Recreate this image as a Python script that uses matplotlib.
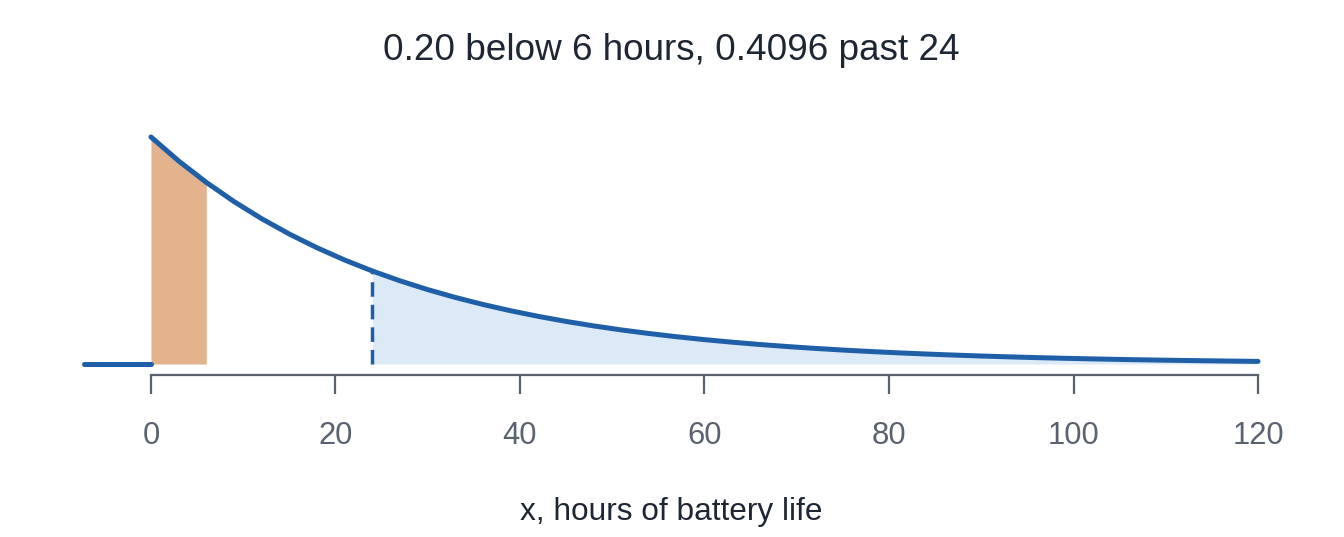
import matplotlib
matplotlib.use("Agg")
import matplotlib.pyplot as plt
import numpy as np

# density values, every 3 hours from 0 to 120
hours = list(range(0, 123, 3))
density = [0.03719, 0.033264, 0.029752, 0.026611, 0.023802, 0.021289, 0.019041,
           0.017031, 0.015233, 0.013625, 0.012187, 0.010900, 0.009749, 0.008720,
           0.007800, 0.006976, 0.006240, 0.005581, 0.004992, 0.004465, 0.003993,
           0.003572, 0.003195, 0.002857, 0.002556, 0.002286, 0.002045, 0.001829,
           0.001636, 0.001463, 0.001309, 0.001171, 0.001047, 0.000936, 0.000837,
           0.000749, 0.000670, 0.000599, 0.000536, 0.000479, 0.000429]
left_x = [-7.3, 0]
left_y = [0, 0]
low_cut = 6
high_cut = 24
xticks = [0, 20, 40, 60, 80, 100, 120]
title = "0.20 below 6 hours, 0.4096 past 24"
xlabel = "x, hours of battery life"

blue = "#1f5fa8"
orange = "#e3b38e"
lightblue = "#dce9f6"
grey = "#5a6270"

plt.rcParams['font.family'] = ['Liberation Sans', 'DejaVu Sans']

fig = plt.figure(figsize=(13.44, 5.37), dpi=100)
ax = fig.add_axes([60/1344, (537-375)/537, (1300-60)/1344, (375-120)/537])

hx = np.array(hours, dtype=float)
hy = np.array(density)

m_low = hx <= low_cut
ax.fill_between(hx[m_low], 0, hy[m_low], color=orange, linewidth=0, zorder=1)
ax.plot(hx[m_low], hy[m_low], color="#555555", lw=2.0, zorder=2)
m_high = hx >= high_cut
ax.fill_between(hx[m_high], 0, hy[m_high], color=lightblue, linewidth=0, zorder=1)
y24 = hy[hx == high_cut][0]
ax.plot([high_cut, high_cut], [0, y24], color=blue, lw=2.5, ls=(0, (4.2, 2.3)), zorder=2)

ax.plot(hx, hy, color=blue, lw=3.6, solid_capstyle='round', zorder=3)
ax.plot(left_x, left_y, color=blue, lw=3.6, solid_capstyle='round', zorder=3)

ax.set_xlim(-9.86, 124.55)
ax.set_ylim(-11/6104, (364-120)/6104)

for s in ['left', 'right', 'top']:
    ax.spines[s].set_visible(False)
ax.spines['bottom'].set_color(grey)
ax.spines['bottom'].set_linewidth(1.6)
ax.spines['bottom'].set_bounds(0, 120)
ax.set_yticks([])
ax.set_xticks(xticks)
ax.set_xticklabels([str(t) for t in xticks])
ax.tick_params(axis='x', colors=grey, length=14, width=1.6, pad=19, labelsize=22.3)
fig.text(671/1344, 1 - 512/537, xlabel, ha='center', va='center', fontsize=22.8, color="#1f2633")
fig.text(671/1344, 1 - 51/537, title, ha='center', va='center', fontsize=26.6, color="#1f2633")

fig.savefig("out.png", dpi=100)
